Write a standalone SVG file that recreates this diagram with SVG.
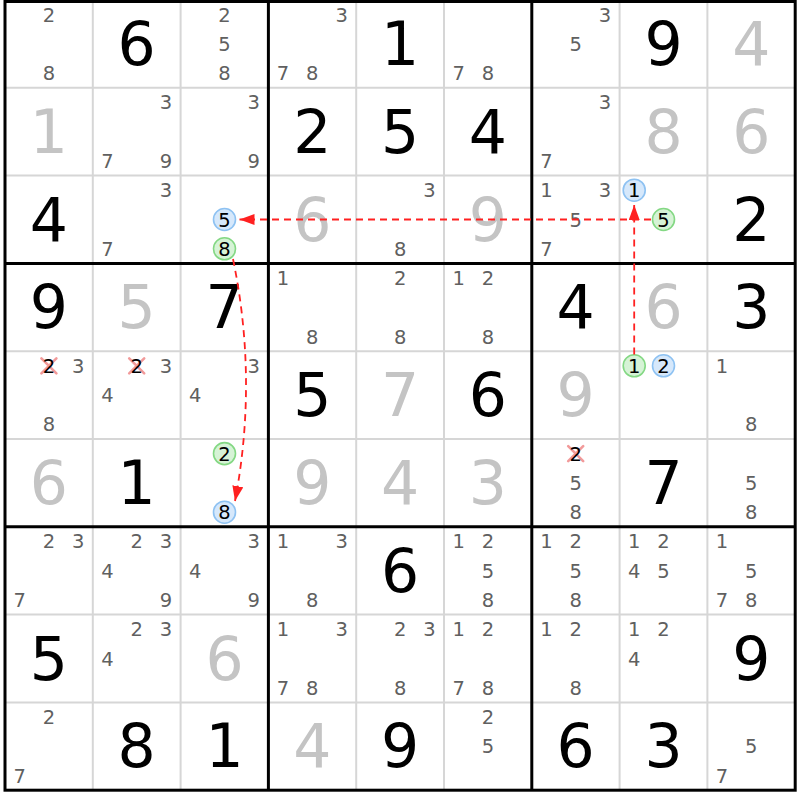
<svg xmlns="http://www.w3.org/2000/svg" width="800" height="800" viewBox="0 0 800 800">
<style>
.big{font-family:"DejaVu Sans","Liberation Sans",sans-serif;font-size:60px;text-anchor:middle;fill:#000}
.given{fill:#000}
.solved{fill:#c4c4c4}
.cand{font-family:"DejaVu Sans","Liberation Sans",sans-serif;font-size:19.5px;text-anchor:middle;fill:#606060}
.mark{font-family:"DejaVu Sans","Liberation Sans",sans-serif;font-size:19.5px;text-anchor:middle;fill:#000}
.thin{stroke:#d6d6d6;stroke-width:2}
.thick{stroke:#000;stroke-width:3}
.cb{fill:#d6e8fb;stroke:#8ec2f2;stroke-width:1.6}
.cg{fill:#d6f3d6;stroke:#84d884;stroke-width:1.6}
.x{stroke:#f29a9a;stroke-width:2.6;stroke-linecap:round}
.link{fill:none;stroke:#ff2020;stroke-width:1.8;stroke-dasharray:7 5}
</style>
<defs>
<marker id="ah" markerUnits="userSpaceOnUse" markerWidth="16" markerHeight="12" refX="15" refY="5.5" orient="auto">
<path d="M0,0 L15,5.5 L0,11 z" fill="#ff2020"/>
</marker>
</defs>
<rect x="0" y="0" width="800" height="800" fill="#fff"/>
<g id="grid">
<g class="thin">
<line x1="92.8" y1="1.5" x2="92.8" y2="790.2"/><line x1="180.6" y1="1.5" x2="180.6" y2="790.2"/>
<line x1="356.2" y1="1.5" x2="356.2" y2="790.2"/><line x1="444" y1="1.5" x2="444" y2="790.2"/>
<line x1="619.6" y1="1.5" x2="619.6" y2="790.2"/><line x1="707.4" y1="1.5" x2="707.4" y2="790.2"/>
<line x1="5" y1="87.8" x2="795.2" y2="87.8"/><line x1="5" y1="175.6" x2="795.2" y2="175.6"/>
<line x1="5" y1="351.2" x2="795.2" y2="351.2"/><line x1="5" y1="439" x2="795.2" y2="439"/>
<line x1="5" y1="614.6" x2="795.2" y2="614.6"/><line x1="5" y1="702.4" x2="795.2" y2="702.4"/>
</g>
<g class="thick">
<line x1="268.4" y1="1.5" x2="268.4" y2="790.2"/><line x1="531.8" y1="1.5" x2="531.8" y2="790.2"/>
<line x1="5" y1="263.4" x2="795.2" y2="263.4"/><line x1="5" y1="526.8" x2="795.2" y2="526.8"/>
<rect x="5" y="1.5" width="790.2" height="788.7" fill="none"/>
</g>
</g>
<g id="r0c0"><text class="cand" x="48.9" y="21.6">2</text><text class="cand" x="48.9" y="80.2">8</text></g>
<g id="r0c1"><text class="big given" x="136.7" y="64.9">6</text></g>
<g id="r0c2"><text class="cand" x="224.5" y="21.6">2</text><text class="cand" x="224.5" y="50.9">5</text><text class="cand" x="224.5" y="80.2">8</text></g>
<g id="r0c3"><text class="cand" x="341.6" y="21.6">3</text><text class="cand" x="283" y="80.2">7</text><text class="cand" x="312.3" y="80.2">8</text></g>
<g id="r0c4"><text class="big given" x="400.1" y="64.9">1</text></g>
<g id="r0c5"><text class="cand" x="458.6" y="80.2">7</text><text class="cand" x="487.9" y="80.2">8</text></g>
<g id="r0c6"><text class="cand" x="605" y="21.6">3</text><text class="cand" x="575.7" y="50.9">5</text></g>
<g id="r0c7"><text class="big given" x="663.5" y="64.9">9</text></g>
<g id="r0c8"><text class="big solved" x="751.3" y="64.9">4</text></g>

<g id="r1c0"><text class="big solved" x="48.9" y="152.7">1</text></g>
<g id="r1c1"><text class="cand" x="166" y="109.4">3</text><text class="cand" x="107.4" y="168">7</text><text class="cand" x="166" y="168">9</text></g>
<g id="r1c2"><text class="cand" x="253.8" y="109.4">3</text><text class="cand" x="253.8" y="168">9</text></g>
<g id="r1c3"><text class="big given" x="312.3" y="152.7">2</text></g>
<g id="r1c4"><text class="big given" x="400.1" y="152.7">5</text></g>
<g id="r1c5"><text class="big given" x="487.9" y="152.7">4</text></g>
<g id="r1c6"><text class="cand" x="605" y="109.4">3</text><text class="cand" x="546.4" y="168">7</text></g>
<g id="r1c7"><text class="big solved" x="663.5" y="152.7">8</text></g>
<g id="r1c8"><text class="big solved" x="751.3" y="152.7">6</text></g>

<g id="r2c0"><text class="big given" x="48.9" y="240.5">4</text></g>
<g id="r2c1"><text class="cand" x="166" y="197.2">3</text><text class="cand" x="107.4" y="255.8">7</text></g>
<g id="r2c2"><circle class="cb" cx="224.5" cy="219.5" r="11"/><text class="mark" x="224.5" y="226.5">5</text><circle class="cg" cx="224.5" cy="248.8" r="11"/><text class="mark" x="224.5" y="255.8">8</text></g>
<g id="r2c3"><text class="big solved" x="312.3" y="240.5">6</text></g>
<g id="r2c4"><text class="cand" x="429.4" y="197.2">3</text><text class="cand" x="400.1" y="255.8">8</text></g>
<g id="r2c5"><text class="big solved" x="487.9" y="240.5">9</text></g>
<g id="r2c6"><text class="cand" x="546.4" y="197.2">1</text><text class="cand" x="605" y="197.2">3</text><text class="cand" x="575.7" y="226.5">5</text><text class="cand" x="546.4" y="255.8">7</text></g>
<g id="r2c7"><circle class="cb" cx="634.2" cy="190.2" r="11"/><text class="mark" x="634.2" y="197.2">1</text><circle class="cg" cx="663.5" cy="219.5" r="11"/><text class="mark" x="663.5" y="226.5">5</text></g>
<g id="r2c8"><text class="big given" x="751.3" y="240.5">2</text></g>

<g id="r3c0"><text class="big given" x="48.9" y="328.3">9</text></g>
<g id="r3c1"><text class="big solved" x="136.7" y="328.3">5</text></g>
<g id="r3c2"><text class="big given" x="224.5" y="328.3">7</text></g>
<g id="r3c3"><text class="cand" x="283" y="285">1</text><text class="cand" x="312.3" y="343.6">8</text></g>
<g id="r3c4"><text class="cand" x="400.1" y="285">2</text><text class="cand" x="400.1" y="343.6">8</text></g>
<g id="r3c5"><text class="cand" x="458.6" y="285">1</text><text class="cand" x="487.9" y="285">2</text><text class="cand" x="487.9" y="343.6">8</text></g>
<g id="r3c6"><text class="big given" x="575.7" y="328.3">4</text></g>
<g id="r3c7"><text class="big solved" x="663.5" y="328.3">6</text></g>
<g id="r3c8"><text class="big given" x="751.3" y="328.3">3</text></g>

<g id="r4c0"><path class="x" d="M41.4,358.3 L56.4,373.3 M56.4,358.3 L41.4,373.3"/><text class="mark" x="48.9" y="372.8">2</text><text class="cand" x="78.2" y="372.8">3</text><text class="cand" x="48.9" y="431.4">8</text></g>
<g id="r4c1"><path class="x" d="M129.2,358.3 L144.2,373.3 M144.2,358.3 L129.2,373.3"/><text class="mark" x="136.7" y="372.8">2</text><text class="cand" x="166" y="372.8">3</text><text class="cand" x="107.4" y="402.1">4</text></g>
<g id="r4c2"><text class="cand" x="253.8" y="372.8">3</text><text class="cand" x="195.2" y="402.1">4</text></g>
<g id="r4c3"><text class="big given" x="312.3" y="416.1">5</text></g>
<g id="r4c4"><text class="big solved" x="400.1" y="416.1">7</text></g>
<g id="r4c5"><text class="big given" x="487.9" y="416.1">6</text></g>
<g id="r4c6"><text class="big solved" x="575.7" y="416.1">9</text></g>
<g id="r4c7"><circle class="cg" cx="634.2" cy="365.8" r="11"/><text class="mark" x="634.2" y="372.8">1</text><circle class="cb" cx="663.5" cy="365.8" r="11"/><text class="mark" x="663.5" y="372.8">2</text></g>
<g id="r4c8"><text class="cand" x="722" y="372.8">1</text><text class="cand" x="751.3" y="431.4">8</text></g>

<g id="r5c0"><text class="big solved" x="48.9" y="503.9">6</text></g>
<g id="r5c1"><text class="big given" x="136.7" y="503.9">1</text></g>
<g id="r5c2"><circle class="cg" cx="224.5" cy="453.6" r="11"/><text class="mark" x="224.5" y="460.6">2</text><circle class="cb" cx="224.5" cy="512.2" r="11"/><text class="mark" x="224.5" y="519.2">8</text></g>
<g id="r5c3"><text class="big solved" x="312.3" y="503.9">9</text></g>
<g id="r5c4"><text class="big solved" x="400.1" y="503.9">4</text></g>
<g id="r5c5"><text class="big solved" x="487.9" y="503.9">3</text></g>
<g id="r5c6"><path class="x" d="M568.2,446.1 L583.2,461.1 M583.2,446.1 L568.2,461.1"/><text class="mark" x="575.7" y="460.6">2</text><text class="cand" x="575.7" y="489.9">5</text><text class="cand" x="575.7" y="519.2">8</text></g>
<g id="r5c7"><text class="big given" x="663.5" y="503.9">7</text></g>
<g id="r5c8"><text class="cand" x="751.3" y="489.9">5</text><text class="cand" x="751.3" y="519.2">8</text></g>

<g id="r6c0"><text class="cand" x="48.9" y="548.4">2</text><text class="cand" x="78.2" y="548.4">3</text><text class="cand" x="19.6" y="607">7</text></g>
<g id="r6c1"><text class="cand" x="136.7" y="548.4">2</text><text class="cand" x="166" y="548.4">3</text><text class="cand" x="107.4" y="577.7">4</text><text class="cand" x="166" y="607">9</text></g>
<g id="r6c2"><text class="cand" x="253.8" y="548.4">3</text><text class="cand" x="195.2" y="577.7">4</text><text class="cand" x="253.8" y="607">9</text></g>
<g id="r6c3"><text class="cand" x="283" y="548.4">1</text><text class="cand" x="341.6" y="548.4">3</text><text class="cand" x="312.3" y="607">8</text></g>
<g id="r6c4"><text class="big given" x="400.1" y="591.7">6</text></g>
<g id="r6c5"><text class="cand" x="458.6" y="548.4">1</text><text class="cand" x="487.9" y="548.4">2</text><text class="cand" x="487.9" y="577.7">5</text><text class="cand" x="487.9" y="607">8</text></g>
<g id="r6c6"><text class="cand" x="546.4" y="548.4">1</text><text class="cand" x="575.7" y="548.4">2</text><text class="cand" x="575.7" y="577.7">5</text><text class="cand" x="575.7" y="607">8</text></g>
<g id="r6c7"><text class="cand" x="634.2" y="548.4">1</text><text class="cand" x="663.5" y="548.4">2</text><text class="cand" x="634.2" y="577.7">4</text><text class="cand" x="663.5" y="577.7">5</text></g>
<g id="r6c8"><text class="cand" x="722" y="548.4">1</text><text class="cand" x="751.3" y="577.7">5</text><text class="cand" x="722" y="607">7</text><text class="cand" x="751.3" y="607">8</text></g>

<g id="r7c0"><text class="big given" x="48.9" y="679.5">5</text></g>
<g id="r7c1"><text class="cand" x="136.7" y="636.2">2</text><text class="cand" x="166" y="636.2">3</text><text class="cand" x="107.4" y="665.5">4</text></g>
<g id="r7c2"><text class="big solved" x="224.5" y="679.5">6</text></g>
<g id="r7c3"><text class="cand" x="283" y="636.2">1</text><text class="cand" x="341.6" y="636.2">3</text><text class="cand" x="283" y="694.8">7</text><text class="cand" x="312.3" y="694.8">8</text></g>
<g id="r7c4"><text class="cand" x="400.1" y="636.2">2</text><text class="cand" x="429.4" y="636.2">3</text><text class="cand" x="400.1" y="694.8">8</text></g>
<g id="r7c5"><text class="cand" x="458.6" y="636.2">1</text><text class="cand" x="487.9" y="636.2">2</text><text class="cand" x="458.6" y="694.8">7</text><text class="cand" x="487.9" y="694.8">8</text></g>
<g id="r7c6"><text class="cand" x="546.4" y="636.2">1</text><text class="cand" x="575.7" y="636.2">2</text><text class="cand" x="575.7" y="694.8">8</text></g>
<g id="r7c7"><text class="cand" x="634.2" y="636.2">1</text><text class="cand" x="663.5" y="636.2">2</text><text class="cand" x="634.2" y="665.5">4</text></g>
<g id="r7c8"><text class="big given" x="751.3" y="679.5">9</text></g>

<g id="r8c0"><text class="cand" x="48.9" y="724">2</text><text class="cand" x="19.6" y="782.6">7</text></g>
<g id="r8c1"><text class="big given" x="136.7" y="767.3">8</text></g>
<g id="r8c2"><text class="big given" x="224.5" y="767.3">1</text></g>
<g id="r8c3"><text class="big solved" x="312.3" y="767.3">4</text></g>
<g id="r8c4"><text class="big given" x="400.1" y="767.3">9</text></g>
<g id="r8c5"><text class="cand" x="487.9" y="724">2</text><text class="cand" x="487.9" y="753.3">5</text></g>
<g id="r8c6"><text class="big given" x="575.7" y="767.3">6</text></g>
<g id="r8c7"><text class="big given" x="663.5" y="767.3">3</text></g>
<g id="r8c8"><text class="cand" x="751.3" y="753.3">5</text><text class="cand" x="722" y="782.6">7</text></g>

<g id="connectors">
<path class="link" d="M651,219.5 L239.5,219.5" marker-end="url(#ah)"/>
<path class="link" d="M634.2,354.5 L634.2,205" marker-end="url(#ah)"/>
<path class="link" d="M233,259 Q258,380 235,501" marker-end="url(#ah)"/>
</g>
</svg>
